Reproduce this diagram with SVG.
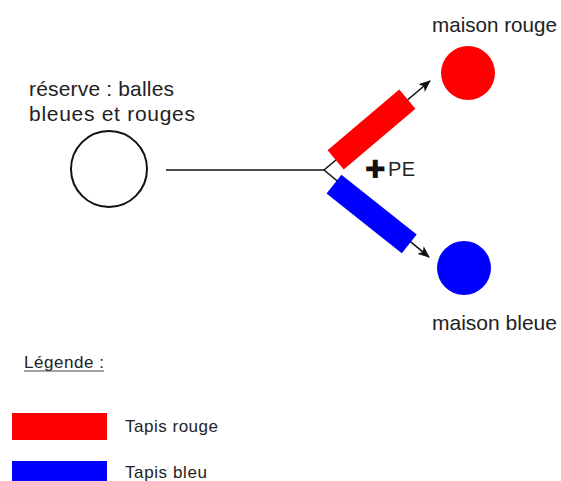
<svg xmlns="http://www.w3.org/2000/svg" width="561" height="481" viewBox="0 0 561 481">
<style>
text{font-family:"Liberation Sans",Arial,sans-serif;fill:#222;}
.lbl{font-size:21px;}
.leg{font-size:17px;}
.conn{stroke:#111;stroke-width:1.6;fill:none;}
</style>
<defs>
<marker id="arr" markerUnits="userSpaceOnUse" markerWidth="12" markerHeight="10" refX="11" refY="5" orient="auto">
<path d="M0,0 L12,5 L0,10 L3,5 Z" fill="#111"/>
</marker>
</defs>
<rect width="561" height="481" fill="#fff"/>
<g id="connectors">
<line class="conn" x1="166" y1="170" x2="324" y2="170"/>
<line class="conn" x1="324" y1="170" x2="430" y2="81" marker-end="url(#arr)"/>
<line class="conn" x1="324" y1="170" x2="429" y2="257" marker-end="url(#arr)"/>
</g>
<g id="reserve">
<circle cx="109" cy="169" r="38" fill="#fff" stroke="#111" stroke-width="2"/>
<text class="lbl" x="29" y="96" textLength="145" lengthAdjust="spacing">réserve : balles</text>
<text class="lbl" x="29" y="121" textLength="166" lengthAdjust="spacing">bleues et rouges</text>
</g>
<g id="tapis-rouge">
<rect x="-47" y="-12.5" width="94" height="25" fill="#f00" transform="translate(371.5,129.5) rotate(-40.3)"/>
</g>
<g id="tapis-bleu">
<rect x="-48" y="-12" width="96" height="24" fill="#00f" transform="translate(371.6,214) rotate(38.4)"/>
</g>
<g id="pe">
<text x="365" y="178" style="font-family:'DejaVu Sans',sans-serif;font-size:25px;font-weight:bold;fill:#111">✚</text>
<text x="388" y="176" style="font-size:20px" textLength="27" lengthAdjust="spacing">PE</text>
</g>
<g id="maison-rouge">
<circle cx="468" cy="73" r="27" fill="#f00"/>
<text class="lbl" x="432" y="32" textLength="125" lengthAdjust="spacingAndGlyphs">maison rouge</text>
</g>
<g id="maison-bleue">
<circle cx="464" cy="268" r="27" fill="#00f"/>
<text class="lbl" x="432" y="330" textLength="125" lengthAdjust="spacingAndGlyphs">maison bleue</text>
</g>
<g id="legende">
<text class="leg" x="24" y="368" textLength="80" lengthAdjust="spacing">Légende :</text>
<line x1="24" y1="371" x2="104" y2="371" stroke="#444" stroke-width="1"/>
<rect x="12" y="413" width="95" height="27" fill="#f00"/>
<text class="leg" x="125" y="432" textLength="93" lengthAdjust="spacing">Tapis rouge</text>
<rect x="12" y="461" width="95" height="22" fill="#00f"/>
<text class="leg" x="125" y="478" textLength="82" lengthAdjust="spacing">Tapis bleu</text>
</g>
</svg>
